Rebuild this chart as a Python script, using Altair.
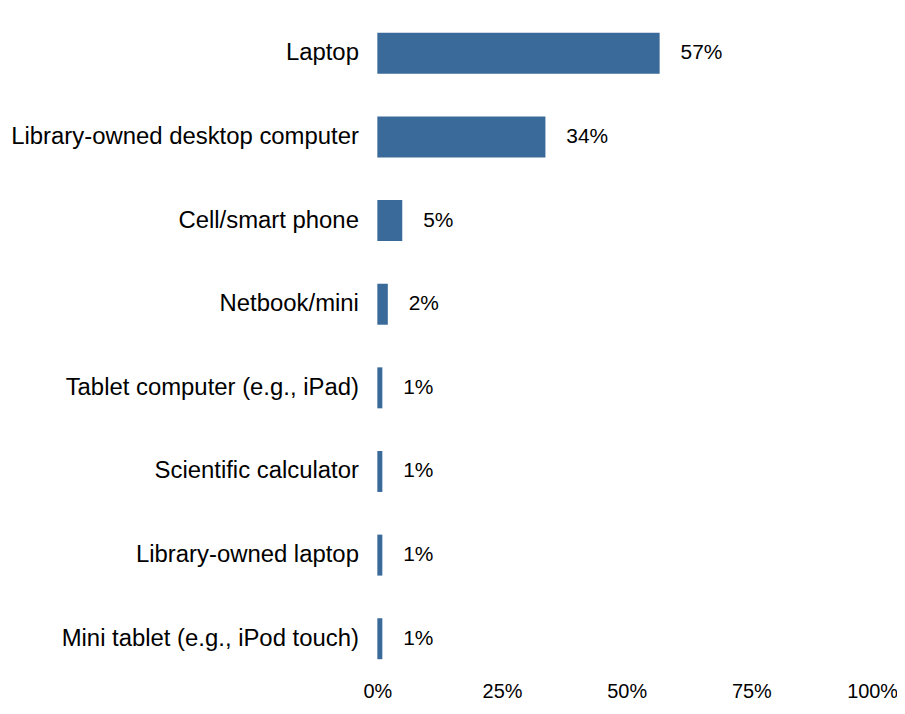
import altair as alt
import pandas as pd

categories = [
    "Laptop",
    "Library-owned desktop computer",
    "Cell/smart phone",
    "Netbook/mini",
    "Tablet computer (e.g., iPad)",
    "Scientific calculator",
    "Library-owned laptop",
    "Mini tablet (e.g., iPod touch)",
]
values = [56.6, 33.7, 5.0, 2.1, 1.0, 1.0, 1.0, 1.0]
labels = ["57%", "34%", "5%", "2%", "1%", "1%", "1%", "1%"]

df = pd.DataFrame({"device": categories, "pct": values, "label": labels})

font = "Liberation Sans"

y = alt.Y(
    "device:N",
    sort=categories,
    title=None,
    scale=alt.Scale(paddingInner=0.51, paddingOuter=0.255),
    axis=alt.Axis(domain=False, ticks=False, labelFontSize=24, labelFont=font,
                  labelColor="#000000", labelPadding=19, labelLimit=500),
)
x = alt.X(
    "pct:Q",
    title=None,
    scale=alt.Scale(domain=[0, 100], nice=False),
    axis=alt.Axis(values=[0, 25, 50, 75, 100], labelExpr="datum.value + '%'",
                  domain=False, ticks=False, grid=False, labelFontSize=20,
                  labelFont=font, labelColor="#000000", labelPadding=1,
                  labelFlush=False,
                  labelOffset=alt.ExprRef("datum.value == 100 ? -4 : 0")),
)

bars = alt.Chart(df).mark_bar(color="#3a6a9a").encode(x=x, y=y)
text = alt.Chart(df).mark_text(align="left", baseline="middle", dx=21,
                               fontSize=21, font=font, color="#000000").encode(
    x=alt.X("pct:Q"), y=alt.Y("device:N", sort=categories), text="label:N")

chart = (bars + text).properties(
    width=501, height=672,
    background="white",
    autosize=alt.AutoSizeParams(type="none"),
    padding={"left": 371, "top": 2, "right": 21, "bottom": 20},
).configure_view(stroke=None)

chart.save("out.html", embed_options={"renderer": "svg", "actions": False})
